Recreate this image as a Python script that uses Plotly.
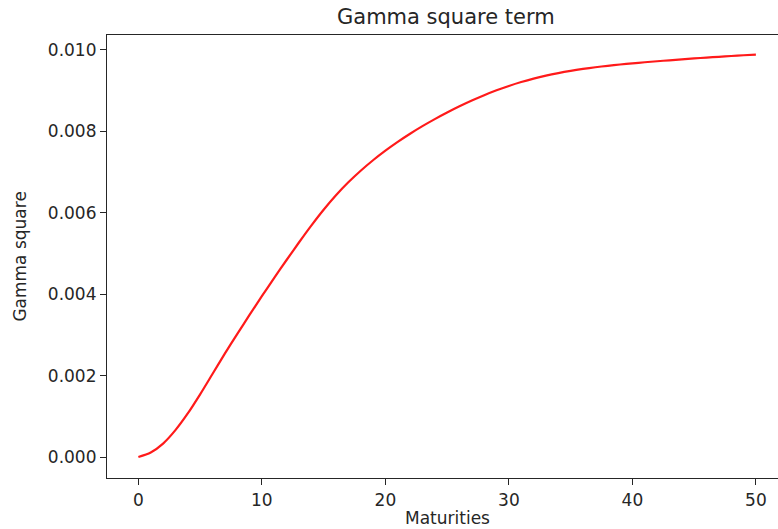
import plotly.graph_objects as go

# Maturities (years) and the corresponding gamma-square term
maturities = list(range(0, 51))
gamma_square = [0.000000, 0.000110, 0.000330, 0.000660, 0.001070, 0.001540,
                0.002040, 0.002540, 0.003020, 0.003490, 0.003950, 0.004400,
                0.004840, 0.005270, 0.005685, 0.006075, 0.006430, 0.006748,
                0.007033, 0.007291, 0.007527, 0.007743, 0.007943, 0.008129,
                0.008302, 0.008464, 0.008616, 0.008758, 0.008889, 0.009009,
                0.009117, 0.009213, 0.009297, 0.009370, 0.009433, 0.009487,
                0.009534, 0.009575, 0.009611, 0.009643, 0.009672, 0.009698,
                0.009723, 0.009747, 0.009770, 0.009792, 0.009813, 0.009833,
                0.009852, 0.009870, 0.009887]

x_ticks = [0, 10, 20, 30, 40, 50]
y_ticks = [0.000, 0.002, 0.004, 0.006, 0.008, 0.010]
y_tick_text = ["0.000", "0.002", "0.004", "0.006", "0.008", "0.010"]

FONT = "DejaVu Sans"
INK = "#262626"

fig = go.Figure()
fig.add_trace(go.Scatter(
    x=maturities, y=gamma_square, mode="lines",
    line=dict(color="#ff1a1a", width=2.2, shape="spline", smoothing=0.8),
    showlegend=False, hoverinfo="skip",
))

fig.update_layout(
    width=778, height=529,
    margin=dict(l=107, r=0, t=35, b=51),
    paper_bgcolor="white", plot_bgcolor="white",
    font=dict(family=FONT, color=INK, size=17),
    title=dict(text="Gamma square term", x=0.505, xanchor="center",
               xref="paper", y=1 - 17 / 529, yref="container", yanchor="middle",
               font=dict(family=FONT, size=21, color=INK)),
    xaxis=dict(range=[-2.54, 51.79], tickvals=x_ticks, ticks="outside",
               ticklen=6, tickwidth=1.2, tickcolor=INK, showgrid=False,
               zeroline=False, showline=True, linecolor=INK, linewidth=1.2,
               mirror=True, tickfont=dict(size=17, color=INK)),
    yaxis=dict(range=[-0.000516, 0.010368], tickvals=y_ticks,
               ticktext=y_tick_text, ticks="outside", ticklen=6,
               tickwidth=1.2, tickcolor=INK, showgrid=False, zeroline=False,
               showline=True, linecolor=INK, linewidth=1.2, mirror=False,
               tickfont=dict(size=17, color=INK)),
    annotations=[
        dict(text="Maturities", xref="paper", yref="paper", x=0.507,
             y=-0.0896, xanchor="center", yanchor="middle", showarrow=False,
             font=dict(family=FONT, size=17, color=INK)),
        dict(text="Gamma square", xref="paper", yref="paper", x=-0.131,
             y=0.5, xanchor="center", yanchor="middle", textangle=-90,
             showarrow=False, font=dict(family=FONT, size=17, color=INK)),
    ],
)

fig.write_html("out.html")
